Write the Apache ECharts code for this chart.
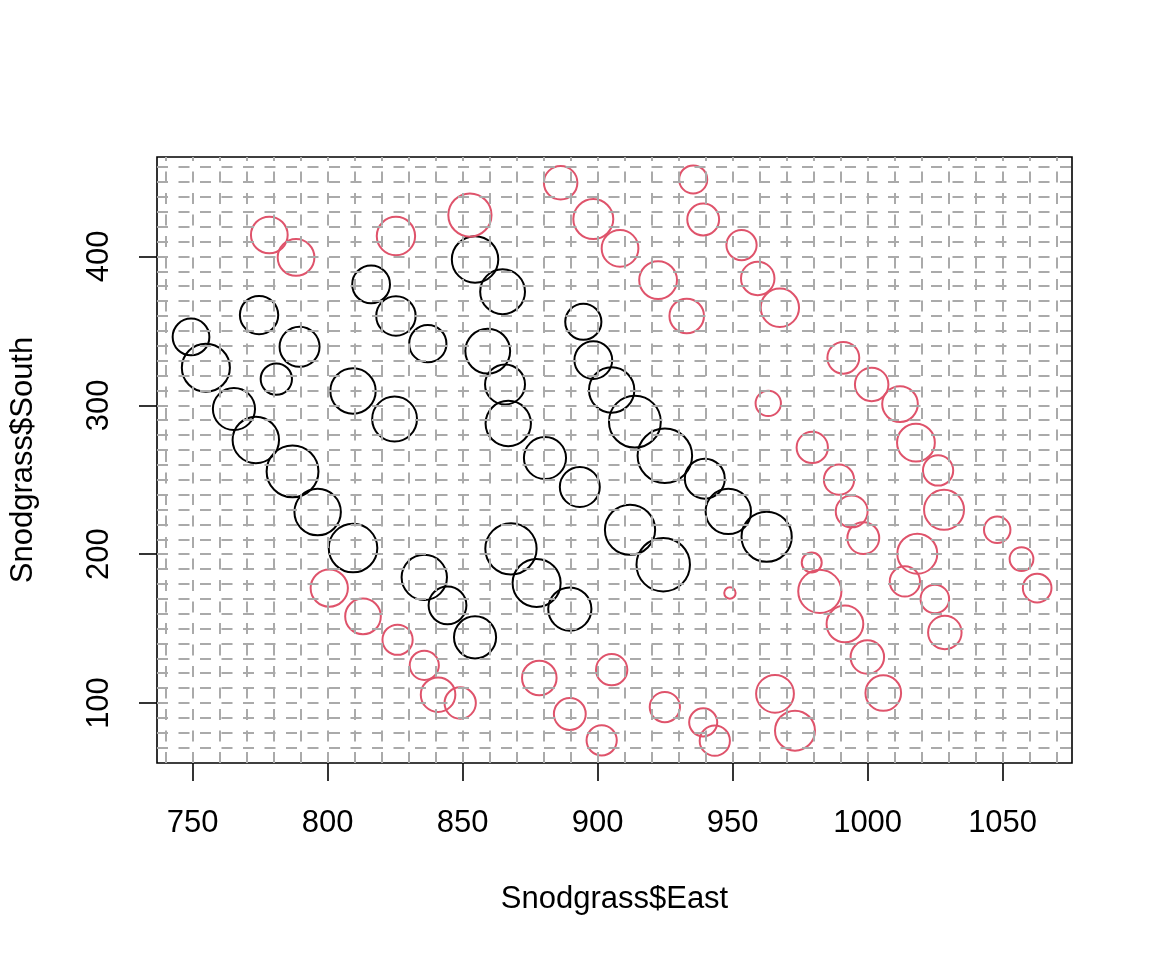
<!DOCTYPE html>
<html>
<head>
<meta charset="utf-8">
<script src="https://cdn.jsdelivr.net/npm/echarts@6/dist/echarts.min.js"></script>
<style>
  html, body { margin: 0; padding: 0; background: #fff; }
  #chart { width: 1152px; height: 960px; }
</style>
</head>
<body>
<div id="chart"></div>
<script>
// black trees
const blackEast = [816.1, 825.3, 837.1, 774.6, 789.6, 749.4, 754.9, 781.0, 765.3, 809.4,
  824.8, 773.4, 787.0, 796.3, 809.4, 835.8, 844.4, 854.6, 864.8, 894.7,
  859.3, 898.4, 865.7, 905.2, 866.9, 913.8, 880.5, 924.9, 939.7, 948.4,
  962.6, 893.4, 912.0, 924.3, 867.9, 877.4, 889.7, 854.6]
const blackSouth = [381.2, 360.0, 341.4, 360.6, 339.3, 345.9, 325.2, 317.6, 297.5, 309.6,
  290.8, 276.7, 255.6, 228.3, 204.1, 184.4, 165.6, 398.0, 376.3, 356.1,
  336.4, 330.4, 314.0, 310.3, 287.8, 289.0, 264.6, 266.1, 250.7, 228.7,
  211.7, 245.1, 216.4, 192.9, 203.6, 180.6, 163.1, 144.1]
const blackRadius = [7.0, 7.3, 6.9, 7.1, 7.4, 6.8, 8.9, 5.8, 7.8, 8.4,
  8.3, 8.6, 9.6, 8.6, 9.0, 8.4, 7.0, 8.6, 8.3, 6.7,
  8.3, 7.0, 7.4, 8.4, 8.4, 9.6, 7.8, 10.1, 7.4, 8.4,
  9.3, 7.4, 9.3, 9.9, 9.5, 8.9, 8.0, 7.8]

// red trees
const redEast = [778.4, 788.3, 825.3, 852.7, 886.3, 935.4, 898.4, 939.1, 908.3, 953.3,
  922.4, 959.3, 967.5, 933.0, 963.2, 991.0, 1001.5, 1012.0, 979.5, 1017.9,
  1026.1, 989.4, 994.1, 1028.3, 1048.0, 998.4, 1018.4, 1057.0, 979.3, 1062.8,
  1013.8, 982.3, 1024.9, 991.6, 1028.6, 999.9, 1005.8, 965.7, 973.1, 949.0,
  878.4, 905.2, 889.7, 901.5, 924.9, 939.1, 943.4, 800.6, 813.1, 825.9,
  835.8, 840.9, 849.1]
const redSouth = [414.4, 399.3, 413.7, 427.8, 449.5, 451.7, 425.1, 424.8, 405.4, 407.6,
  384.1, 385.2, 365.5, 360.0, 301.3, 331.9, 314.0, 300.8, 271.7, 274.9,
  256.2, 250.0, 228.7, 229.8, 216.4, 210.8, 200.3, 196.7, 194.4, 177.2,
  181.7, 175.0, 169.9, 153.1, 147.4, 130.9, 106.7, 106.2, 81.4, 173.9,
  116.8, 122.4, 92.6, 74.9, 97.3, 87.0, 74.7, 177.2, 158.2, 142.5,
  125.3, 105.6, 100.0]
const redRadius = [6.8, 6.8, 7.1, 8.0, 6.2, 5.2, 7.4, 5.9, 6.8, 5.6,
  7.0, 6.2, 7.1, 6.4, 4.7, 5.9, 6.2, 6.6, 5.8, 7.0,
  5.6, 5.6, 5.9, 7.4, 4.9, 5.9, 7.4, 4.4, 3.7, 5.3,
  5.6, 8.0, 5.3, 6.8, 6.2, 6.2, 6.6, 7.0, 7.4, 2.1,
  6.4, 5.8, 5.9, 5.6, 5.6, 5.2, 5.6, 6.9, 6.6, 5.6,
  5.4, 6.4, 5.8]

// axis ticks and grid lines
const eastTicks = [750, 800, 850, 900, 950, 1000, 1050]
const southTicks = [100, 200, 300, 400]
const gridEast = [740, 750, 760, 770, 780, 790, 800, 810, 820, 830, 840, 850, 860, 870,
  880, 890, 900, 910, 920, 930, 940, 950, 960, 970, 980, 990, 1000, 1010,
  1020, 1030, 1040, 1050, 1060, 1070]
const gridSouth = [70, 80, 90, 100, 110, 120, 130, 140, 150, 160, 170, 180, 190, 200,
  210, 220, 230, 240, 250, 260, 270, 280, 290, 300, 310, 320, 330, 340,
  350, 360, 370, 380, 390, 400, 410, 420, 430, 440, 450, 460]

const xMin = 736.8, xMax = 1075.7
const yMin = 59.7, yMax = 466.8
const gridLeft = 157, gridTop = 157, gridW = 915, gridH = 606
const pxPerUnit = gridW / (xMax - xMin)

let toPoints = (xs, ys, rs) => xs.map((x, i) => [x, ys[i], rs[i]])

let chart = echarts.init(document.getElementById("chart"), null, { renderer: "canvas" })

const font = "'Liberation Sans', Arial, Helvetica, sans-serif"
const fs = 31
let gridMarks = gridEast.map(v => ({ xAxis: v })).concat(gridSouth.map(v => ({ yAxis: v })))

chart.setOption({
  animation: false,
  backgroundColor: "#fff",
  textStyle: { fontFamily: font },
  grid: {
    left: gridLeft, top: gridTop, width: gridW, height: gridH,
    show: true, borderColor: "#000", borderWidth: 1.6, backgroundColor: "transparent"
  },
  xAxis: {
    type: "value", min: xMin, max: xMax,
    name: "Snodgrass$East", nameLocation: "middle", nameGap: 121,
    nameTextStyle: { fontSize: fs, color: "#000", fontFamily: font },
    axisLine: { show: false },
    axisTick: { show: true, customValues: eastTicks, length: 18, lineStyle: { color: "#000", width: 1.6 } },
    axisLabel: { customValues: eastTicks, margin: 45, fontSize: fs, color: "#000", fontFamily: font,
      formatter: v => String(v) },
    splitLine: { show: false }
  },
  yAxis: {
    type: "value", min: yMin, max: yMax,
    name: "Snodgrass$South", nameLocation: "middle", nameGap: 118,
    nameTextStyle: { fontSize: fs, color: "#000", fontFamily: font },
    axisLine: { show: false },
    axisTick: { show: true, customValues: southTicks, length: 18, lineStyle: { color: "#000", width: 1.6 } },
    axisLabel: { customValues: southTicks, rotate: 90, margin: 42, fontSize: fs, color: "#000", fontFamily: font,
      formatter: v => String(v) },
    splitLine: { show: false }
  },
  series: [
    {
      type: "scatter",
      z: 2,
      data: toPoints(blackEast, blackSouth, blackRadius),
      symbol: "circle",
      symbolSize: v => 2 * v[2] * pxPerUnit,
      itemStyle: { color: "rgba(0,0,0,0)", borderColor: "#000", borderWidth: 2, opacity: 1 },
      emphasis: { disabled: true }
    },
    {
      type: "scatter",
      z: 3,
      data: toPoints(redEast, redSouth, redRadius),
      symbol: "circle",
      symbolSize: v => 2 * v[2] * pxPerUnit,
      itemStyle: { color: "rgba(0,0,0,0)", borderColor: "#DF536B", borderWidth: 2, opacity: 1 },
      emphasis: { disabled: true },
      markLine: {
        silent: true,
        symbol: ["none", "none"],
        label: { show: false },
        emphasis: { disabled: true },
        lineStyle: { color: "#aaaaaa", width: 2, type: [11, 10.5], dashOffset: 0, opacity: 1 },
        data: gridMarks
      }
    }
  ]
})
</script>
</body>
</html>
